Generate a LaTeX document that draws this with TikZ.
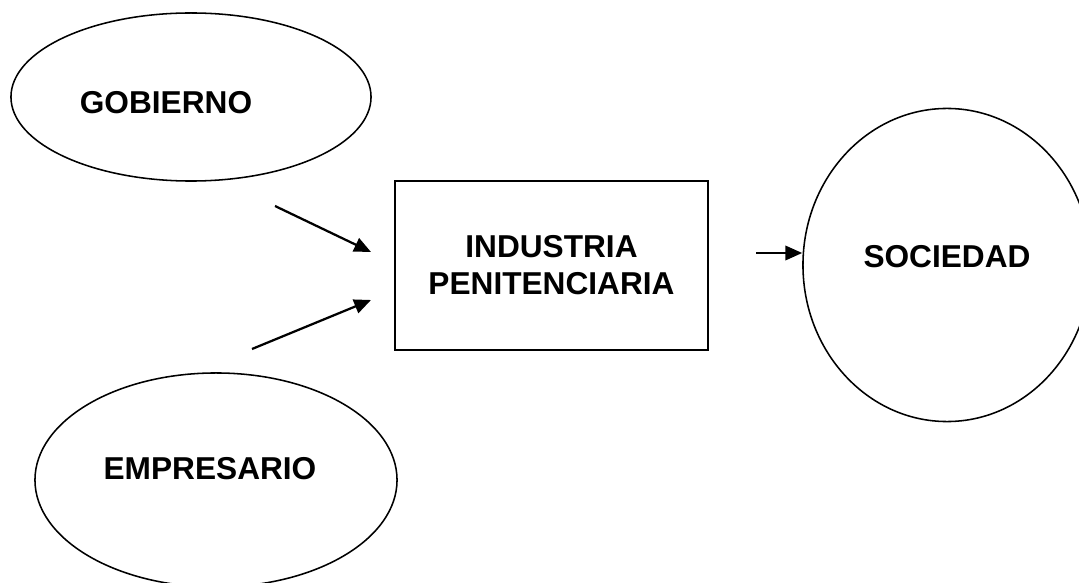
\documentclass[tikz,border=0pt]{standalone}
\usepackage{fontspec}
\setmainfont{Liberation Sans}
\usetikzlibrary{positioning,arrows.meta,shapes.geometric}

\begin{document}
\begin{tikzpicture}[
    x=0.025cm,y=-0.025cm,
    blob/.style={ellipse,draw=black,line width=1.1pt,inner sep=0pt},
    box/.style={rectangle,draw=black,line width=1.1pt,minimum width=7.825cm,minimum height=4.225cm,align=center,font=\bfseries\fontsize{22.5}{26.3}\selectfont},
    lbl/.style={font=\bfseries\fontsize{22.5}{26.3}\selectfont},
    arrow/.style={-{Triangle[length=0.42cm,width=0.36cm]},line width=1.6pt,black}
]
\useasboundingbox (0,0) rectangle (1079,583);

\node[blob,minimum width=9cm,minimum height=4.2cm] (gob) at (191,97) {};
\node[blob,minimum width=9.05cm,minimum height=5.35cm] (emp) at (216,480) {};
\node[blob,minimum width=7.2cm,minimum height=7.825cm] (soc) at (947,265) {};
\node[box] (ind) at (551.5,265.5) {INDUSTRIA\\PENITENCIARIA};

\node[lbl] (gobtxt) at (166,103) {GOBIERNO};
\node[lbl] (emptxt) at (210,469) {EMPRESARIO};
\node[lbl] (soctxt) at (947,257) {SOCIEDAD};

\coordinate (gstart) at (275,206);
\coordinate (gend) at (371,252);
\coordinate (estart) at (252,349);
\coordinate (eend) at (371,300);
\coordinate (sstart) at (756,253);

\draw[arrow] (gstart) -- (gend);
\draw[arrow] (estart) -- (eend);
\draw[arrow] (sstart) -- (sstart -| soc.west);

\end{tikzpicture}
\end{document}
